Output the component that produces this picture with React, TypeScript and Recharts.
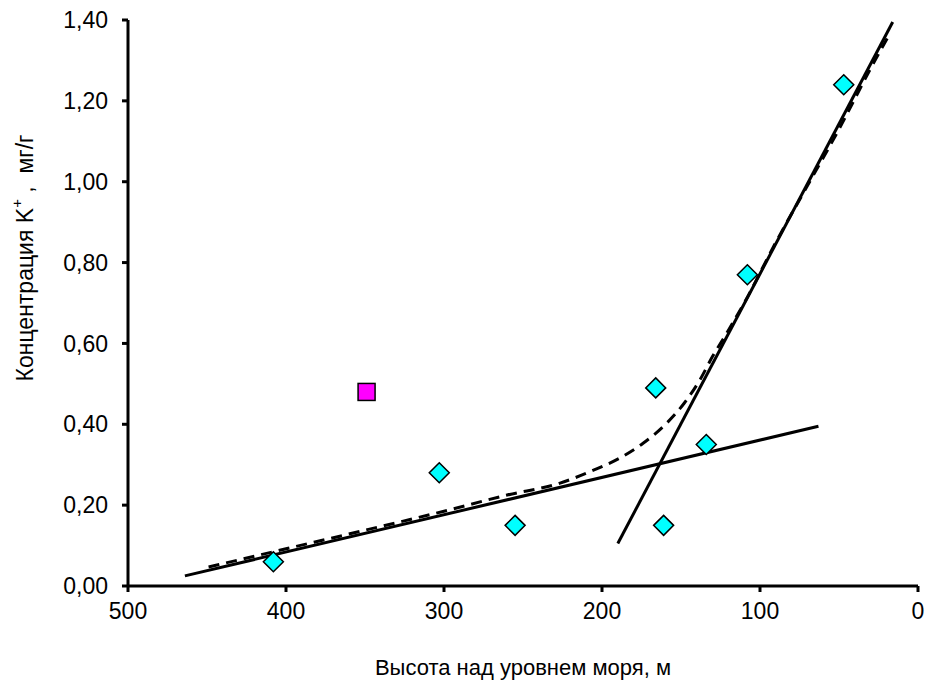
import { ComposedChart, Line, Scatter, XAxis, YAxis, Label } from "recharts";

// Точки измерений (высота, м; концентрация K+, мг/г)
const heights = [408, 303, 255, 166, 161, 134, 108, 47];
const potassium = [0.06, 0.28, 0.15, 0.49, 0.15, 0.35, 0.77, 1.24];

// Выпадающая точка
const outlierHeight = [349];
const outlierValue = [0.48];

// Линия тренда для нижнего участка
const lowLineX = [464, 63];
const lowLineY = [0.025, 0.395];

// Линия тренда для верхнего участка
const highLineX = [190, 16];
const highLineY = [0.105, 1.395];

// Пунктирная аппроксимирующая кривая
const curveX = [449, 400, 350, 300, 260, 227, 205, 189, 174, 159, 148, 138, 130, 121, 110, 90, 70, 50, 30, 18];
const curveY = [0.047, 0.092, 0.138, 0.185, 0.225, 0.254, 0.287, 0.316, 0.353, 0.403, 0.452, 0.51, 0.568, 0.626, 0.7, 0.85, 0.99, 1.13, 1.28, 1.365];

const xTicks = [0, 100, 200, 300, 400, 500];
const yTicks = [0, 0.2, 0.4, 0.6, 0.8, 1.0, 1.2, 1.4];

const zip = (xs: number[], ys: number[]) => xs.map((x, i) => ({ x, y: ys[i] }));

const points = zip(heights, potassium);
const outlier = zip(outlierHeight, outlierValue);
const lowLine = zip(lowLineX, lowLineY);
const highLine = zip(highLineX, highLineY);
const curve = zip(curveX, curveY);

const FONT = "Arial, 'Liberation Sans', sans-serif";
const FS = 22;
const TICK_FS = 23;

const Diamond = (props: any) => {
  const { cx, cy } = props;
  const r = 10;
  return (
    <path
      d={`M${cx},${cy - r} L${cx + r},${cy} L${cx},${cy + r} L${cx - r},${cy} Z`}
      fill="#00FFFF"
      stroke="#000"
      strokeWidth={1.5}
    />
  );
};

const Square = (props: any) => {
  const { cx, cy } = props;
  const s = 8.5;
  return (
    <rect x={cx - s} y={cy - s} width={2 * s} height={2 * s} fill="#FF00FF" stroke="#000" strokeWidth={1.5} />
  );
};

const YTitle = (props: any) => {
  const { viewBox } = props;
  const cx = 25;
  const cy = viewBox.y + viewBox.height / 2 - 45;
  return (
    <text
      x={cx}
      y={cy}
      transform={`rotate(-90, ${cx}, ${cy})`}
      textAnchor="middle"
      dominantBaseline="central"
      fontFamily={FONT}
      fontSize={23}
      fill="#000"
    >
      Концентрация K
      <tspan dy={-9} fontSize={15}>+</tspan>
      <tspan dy={9}>{"\u00a0,\u00a0\u00a0мг/г"}</tspan>
    </text>
  );
};

const XTitle = (props: any) => {
  const { viewBox } = props;
  return (
    <text
      x={viewBox.x + viewBox.width / 2}
      y={675}
      textAnchor="middle"
      fontFamily={FONT}
      fontSize={FS}
      fill="#000"
    >
      Высота над уровнем моря, м
    </text>
  );
};

export default function App() {
  return (
    <div style={{ position: "absolute", left: 0, top: 0, background: "#fff" }}>
      <ComposedChart width={928} height={697} margin={{ top: 20, right: 10, left: 0, bottom: 0 }}>
        <XAxis
          type="number"
          dataKey="x"
          domain={[0, 500]}
          ticks={xTicks}
          reversed
          height={111}
          allowDataOverflow
          axisLine={{ stroke: "#000", strokeWidth: 3 }}
          tickLine={{ stroke: "#000", strokeWidth: 3 }}
          tickSize={6}
          tickMargin={11}
          tick={{ fontSize: TICK_FS, fontFamily: FONT, fill: "#000" }}
        >
          <Label content={<XTitle />} />
        </XAxis>
        <YAxis
          type="number"
          dataKey="y"
          domain={[0, 1.4]}
          ticks={yTicks}
          width={128}
          allowDataOverflow
          axisLine={{ stroke: "#000", strokeWidth: 3 }}
          tickLine={{ stroke: "#000", strokeWidth: 3 }}
          tickSize={6}
          tickMargin={14}
          tickFormatter={(v: number) => v.toFixed(2).replace(".", ",")}
          tick={{ fontSize: TICK_FS, fontFamily: FONT, fill: "#000" }}
        >
          <Label content={<YTitle />} />
        </YAxis>
        <Line data={lowLine} dataKey="y" type="linear" stroke="#000" strokeWidth={3} dot={false} isAnimationActive={false} />
        <Line data={highLine} dataKey="y" type="linear" stroke="#000" strokeWidth={3} dot={false} isAnimationActive={false} />
        <Line
          data={curve}
          dataKey="y"
          type="monotone"
          stroke="#000"
          strokeWidth={3}
          strokeDasharray="11 7"
          dot={false}
          isAnimationActive={false}
        />
        <Scatter data={points} dataKey="y" shape={<Diamond />} isAnimationActive={false} />
        <Scatter data={outlier} dataKey="y" shape={<Square />} isAnimationActive={false} />
      </ComposedChart>
    </div>
  );
}
